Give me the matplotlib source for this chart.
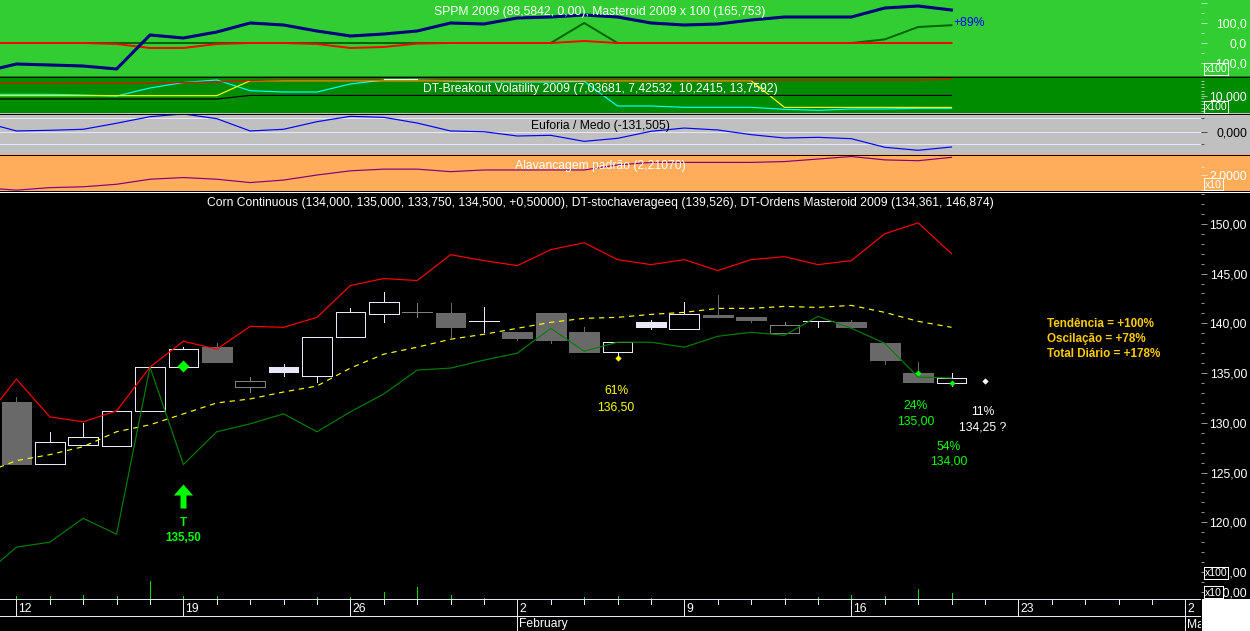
import matplotlib
matplotlib.use("Agg")
import matplotlib.pyplot as plt
from matplotlib.path import Path
from matplotlib.patches import Rectangle
from matplotlib.ticker import FixedLocator, FuncFormatter, MultipleLocator
import numpy as np

plt.rcParams['font.family'] = ['Liberation Sans', 'DejaVu Sans']
plt.rcParams['lines.antialiased'] = False
plt.rcParams['patch.antialiased'] = False
plt.rcParams['text.antialiased'] = True

# ---------- data ----------
line_x = list(range(-1, 29))
masteroid = [-145,-105,-110,-115,-130,40,25,55,100,90,60,35,45,60,100,95,125,130,140,130,100,90,95,115,130,130,130,175,185,165]
sppm_red = [0,0,0,0,-5,-25,-25,-5,0,0,-5,-25,-20,-3,0,0,0,0,10,0,0,0,0,0,0,0,0,0,0,0]
sppm_green = [0,0,0,0,0,0,0,0,0,0,0,0,0,0,0,0,0,0,100,0,0,0,0,0,0,0,0,18,80,89]

vol_red = [12.9]*6 + [13.08,13.19,13.52] + [13.63]*11 + [13.63]*9 + [13.78]
vol_black = [9.45]*8 + [10.24]*22
vol_yellow = [10.18]*8 + [13.48]*16 + [7.6]*6
vol_cyan = [10.48,10.48,10.48,10.33,10.11,11.87,13.08,13.63,11.28,10.99,10.99,12.75,13.63,13.74,13.41,13.19,13.19,13.19,13.34,7.91,7.91,7.62,7.62,7.62,7.18,6.96,7.25,7.25,7.40,7.40]
vol_white_x = [11, 12]
vol_white = [13.85, 13.85]

euforia = [92,12,18,27,81,140,164,122,12,27,95,143,134,83,12,5,-33,-27,-81,-54,9,38,21,-21,-51,-45,-57,-134,-161,-131.5]
euforia_levels = [125, 0, -107]
alavanc = [1.85,1.82,1.85,1.86,1.89,1.95,1.97,1.95,1.91,1.94,2.00,2.05,2.07,2.07,2.04,2.06,2.06,2.06,2.06,2.12,2.15,2.15,2.15,2.15,2.16,2.19,2.22,2.18,2.17,2.21]

price_red = [130.1,134.4,130.6,130.1,131.2,135.6,138.2,137.4,139.7,139.6,140.6,143.8,144.5,144.3,146.9,146.3,145.8,147.4,148.1,146.4,145.9,146.4,145.3,146.4,146.7,145.9,146.3,149.0,150.1,147.0]
price_green = [114.6,117.5,118.0,120.4,118.8,135.6,125.8,129.1,129.9,130.9,129.1,131.1,132.9,135.3,135.5,136.3,137.0,139.5,137.2,138.1,138.1,137.6,138.7,139.1,138.8,140.7,139.5,138.0,134.6,134.5]
price_yellow = [124.9,126.2,126.8,127.6,129.1,129.8,130.9,132.0,132.4,133.1,133.7,135.5,136.9,137.6,138.4,138.9,139.5,140.1,140.5,140.6,140.9,141.1,141.5,141.5,141.7,141.6,141.8,141.1,140.2,139.6]

body_top = [132.1,128.1,128.6,131.2,135.6,137.4,137.6,134.2,135.6,138.6,141.1,142.1,141.1,141.0,140.2,139.1,141.0,139.1,138.1,140.1,140.9,140.8,140.6,139.8,140.2,140.1,138.05,135.0,134.5]
body_bot = [125.9,125.9,127.8,127.7,131.2,135.6,136.1,133.6,135.1,134.7,138.6,140.9,141.1,139.6,140.2,138.5,138.3,137.1,137.1,139.6,139.4,140.6,140.3,139.0,140.2,139.6,136.3,134.1,134.0]
high = [132.6,129.1,130.0,131.2,135.6,137.6,138.0,134.6,135.9,138.6,141.5,143.1,142.0,142.0,141.6,139.1,141.0,139.6,138.1,140.3,142.1,142.8,140.6,140.1,140.2,140.3,138.05,136.1,135.0]
low = [125.9,125.9,127.8,127.7,131.2,135.6,136.1,133.1,134.7,134.1,138.6,140.1,140.6,138.6,139.1,138.3,138.0,137.1,136.4,139.4,139.4,140.6,140.1,139.0,139.6,139.6,135.9,134.1,133.75]
kinds = ['grey','hollow','hollow','hollow','hollow','hollow','grey','dim','solid','hollow','hollow','hollow','dim','grey','hollow','grey','grey','grey','hollow','solid','hollow','grey','grey','dim','hollow','grey','grey','grey','hollow']

volume = [3.3,2.7,4.3,3.3,17.7,2.7,3.3,0,0,1.7,2.3,7.3,12.3,4.3,1.3,0,0,2.3,3.3,1.3,0,0,0,1.3,2.3,4.3,3.3,10.3,6.3]

week_ticks = [0,5,10,15,20,25,30,35]
week_labels = ['12','19','26','2','9','16','23','2']
month_ticks = [15,35]
month_labels = ['February','March']
all_bars = list(range(0,36))

main_major = [115,120,125,130,135,140,145,150]

W, H = 1250, 631
fig = plt.figure(figsize=(W/100, H/100), dpi=100, facecolor='white')
PX = 0.72
THIN = 0.42
SER = 0.85
XLIM = (-0.491, 35.47)
AX_R = 1201
FS = 8.7

def add_ax(y0, y1, ylim):
    ax = fig.add_axes([0, 1-y1/H, AX_R/W, (y1-y0)/H])
    ax.patch.set_alpha(0)
    ax.set_xlim(*XLIM); ax.set_ylim(*ylim)
    for s in ax.spines.values():
        s.set_visible(False)
    ax.xaxis.set_visible(False)
    ax.yaxis.tick_right()
    return ax

def style_ticks(ax, major, minor, fmt, color):
    ax.yaxis.set_major_locator(FixedLocator(major) if isinstance(major, list) else major)
    ax.yaxis.set_minor_locator(FixedLocator(minor) if isinstance(minor, list) else minor)
    ax.yaxis.set_major_formatter(FuncFormatter(fmt))
    ax.tick_params(axis='y', which='major', direction='out', length=6*PX, width=THIN, color=color,
                   labelcolor=color, labelsize=FS, pad=(1247-AX_R-6)*PX)
    ax.tick_params(axis='y', which='minor', direction='out', length=3*PX, width=THIN, color=color)
    for t in ax.get_yticklabels():
        t.set_ha('right')

def series(ax, x, y, color, z, **kw):
    # one-pixel anti-aliased trace
    ax.plot(x, y, color=color, lw=SER, zorder=z, antialiased=True, **kw)

# backgrounds and frames
under = fig.add_axes([0,0,1,1], zorder=-5)
under.set_xlim(0,W); under.set_ylim(H,0); under.axis('off')
for y0,y1,c in [(0,76,'#32CD32'),(76,113,'#008C00'),(113,154,'#C0C0C0'),(154,191,'#FFAD5B'),(191,631,'#000000')]:
    under.add_patch(Rectangle((0,y0),W,y1-y0,facecolor=c,edgecolor='none'))
under.add_patch(Rectangle((1202,599),48,32,facecolor='white',edgecolor='none'))

# panel 1
a1 = add_ax(0,76,(-165,215))
a1.plot(line_x, sppm_green, color='#006400', lw=1.4, zorder=2, antialiased=True)
a1.plot(line_x, sppm_red, color='#FF0000', lw=1.4, zorder=3, antialiased=True)
a1.plot(line_x, masteroid, color='#000080', lw=2.2, zorder=4, antialiased=True)
style_ticks(a1,[-100,0,100,200],[-50,50,150],lambda v,p:'' if v>150 else f'{v:.1f}'.replace('.',','),'white')

# panel 2
a2 = add_ax(77,113,(6.37,14.29))
series(a2, line_x, vol_cyan, '#00FFFF', 2)
series(a2, line_x, vol_yellow, '#FFFF00', 3)
series(a2, line_x, vol_red, '#FF0000', 4)
series(a2, line_x, vol_black, '#000000', 4)
series(a2, vol_white_x, vol_white, '#FFFFFF', 5)
style_ticks(a2,[10],MultipleLocator(0.75),lambda v,p:f'{v:.3f}'.replace('.',','),'white')

# panel 3
a3 = add_ax(114,154,(-194.2,163.8))
for lv in euforia_levels:
    a3.axhline(lv, color='#E6E6FA', lw=THIN, zorder=1)
series(a3, line_x, euforia, '#0000FF', 3)
style_ticks(a3,[0],[125,-107],lambda v,p:f'{v:.3f}'.replace('.',','),'black')

# panel 4
a4 = add_ax(155,191,(1.81,2.238))
series(a4, line_x, alavanc, '#800080', 3)
style_ticks(a4,[2.0],[2.1,1.82],lambda v,p:f'{v:.4f}'.replace('.',','),'white')

# main panel
m = add_ax(192,599,(112.29,153.2))
style_ticks(m,main_major,MultipleLocator(1),lambda v,p:f'{v:.2f}'.replace('.',','),'white')
GREY='#696969'; LAV='#E8E8F8'
for i,k in enumerate(kinds):
    wick = GREY if k in('grey','dim') else LAV
    if k=='dim': wick='#808080'
    m.vlines(i, low[i], high[i], color=wick, lw=THIN, zorder=2)
    h = body_top[i]-body_bot[i]
    if k=='grey':
        fc,ec=GREY,GREY
    elif k=='dim':
        fc,ec='black','#808080'
    elif k=='solid':
        fc,ec=LAV,LAV
    else:
        fc,ec='black',LAV
    m.bar(i,h,bottom=body_bot[i],width=0.89,facecolor=fc,edgecolor=ec,lw=THIN,zorder=3)
series(m, line_x, price_yellow, '#FFFF00', 4, ls=(0,(4.5,4)))
series(m, line_x, price_green, '#008000', 5)
series(m, line_x, price_red, '#FF0000', 5)
m.plot([5],[135.7],marker='D',ms=6.6,color='#00FF00',mec='none',zorder=6)
m.plot([18],[136.5],marker='D',ms=3.2,color='#FFFF00',mec='none',zorder=6)
m.plot([27,28],[135.0,134.0],ls='none',marker='D',ms=3.2,color='#00FF00',mec='none',zorder=6)
m.plot([29],[134.25],marker='D',ms=3.2,color='white',mec='none',zorder=6)
arrow = Path([(-0.25,-1),(-0.25,0.083),(-0.8,0.083),(0,1),(0.8,0.083),(0.25,0.083),(0.25,-1),(-0.25,-1)])
m.plot([5],[122.6],marker=arrow,ms=24*PX,color='#00FF00',mec='none',zorder=6)

# volume
v = add_ax(540,599,(0,59))
v.yaxis.set_visible(False)
v.vlines(list(range(len(volume))),0,volume,color='#00E000',lw=THIN)

# date axis
d = fig.add_axes([0,0,AX_R/W,(H-599)/H])
d.set_facecolor('black'); d.set_xlim(*XLIM); d.set_ylim(32,0)
for s in d.spines.values():
    s.set_visible(False)
d.yaxis.set_visible(False); d.xaxis.set_visible(False)
d.axhline(0.3,color=LAV,lw=THIN); d.axhline(17,color=LAV,lw=THIN)
d.vlines(all_bars,0,5,color=LAV,lw=THIN)
d.vlines(week_ticks,0,17,color=LAV,lw=THIN)
d.vlines(month_ticks,17,32,color=LAV,lw=THIN)
for t,l in zip(week_ticks,week_labels):
    d.annotate(l,(t,9.5),xytext=(2*PX,0),textcoords='offset points',color='white',fontsize=FS,va='center',ha='left',annotation_clip=False)
for t,l in zip(month_ticks,month_labels):
    d.annotate(l,(t,25.5),xytext=(2*PX,0),textcoords='offset points',color='white',fontsize=FS,va='center',ha='left',clip_on=True)

# overlay: frames, scale boxes, text in pixel space
o = fig.add_axes([0,0,1,1], zorder=10)
o.patch.set_alpha(0); o.set_xlim(0,W); o.set_ylim(H,0); o.axis('off')
for y,c in [(76.5,'black'),(113.5,'black'),(154.5,'black'),(191.5,'white')]:
    o.plot([0,W],[y,y],color=c,lw=THIN)

def txt(x,y,s,c='white',ha='center',fw='normal',fs=None):
    return o.text(x,y+1,s,color=c,ha=ha,va='center',fontsize=fs or FS,fontweight=fw)

for x0,y0,x1,y1,s,fc in [(1204,63,1228,75,'x100','#32CD32'),(1204,101,1228,113,'x100','#008C00'),(1204,178,1223,190,'x10','#FFAD5B'),
                          (1204,567,1228,579,'x100','black'),(1204,586,1223,598,'x10','black')]:
    o.add_patch(Rectangle((x0,y0),x1-x0,y1-y0,facecolor=fc,edgecolor='white',lw=THIN,zorder=5))
    txt((x0+x1)/2,(y0+y1)/2-0.5,s,fs=7.6).set_zorder(6)

txt(600,11,'SPPM 2009 (88,5842, 0,00), Masteroid 2009 x 100 (165,753)')
txt(600,88,'DT-Breakout Volatility 2009 (7,03681, 7,42532, 10,2415, 13,7592)')
txt(600,125,'Euforia / Medo (-131,505)','black')
txt(600,165,'Alavancagem padrão (2,21070)')
txt(600,202,'Corn Continuous (134,000, 135,000, 133,750, 134,500, +0,50000), DT-stochaverageeq (139,526), DT-Ordens Masteroid 2009 (134,361, 146,874)')
txt(953,22,'+89%','#0000FF',ha='left')
txt(1247,592,'100,00',ha='right').set_zorder(1)
GOLD='#FFCC00'
BFS=8.4
txt(1047,323,'Tendência = +100%',GOLD,ha='left',fw='bold',fs=BFS)
txt(1047,338,'Oscilação = +78%',GOLD,ha='left',fw='bold',fs=BFS)
txt(1047,353,'Total Diário = +178%',GOLD,ha='left',fw='bold',fs=BFS)
txt(616,390,'61%','#FFFF00'); txt(616,406,'136,50','#FFFF00')
LIME='#00FF00'
txt(183,522,'T',LIME,fw='bold',fs=BFS); txt(183,537,'135,50',LIME,fw='bold',fs=BFS)
txt(916,405,'24%',LIME); txt(916,420,'135,00',LIME)
txt(949,446,'54%',LIME); txt(949,461,'134,00',LIME)
txt(983,411,'11%'); txt(983,426,'134,25 ?')

fig.savefig('out.png', dpi=100, facecolor='white')
